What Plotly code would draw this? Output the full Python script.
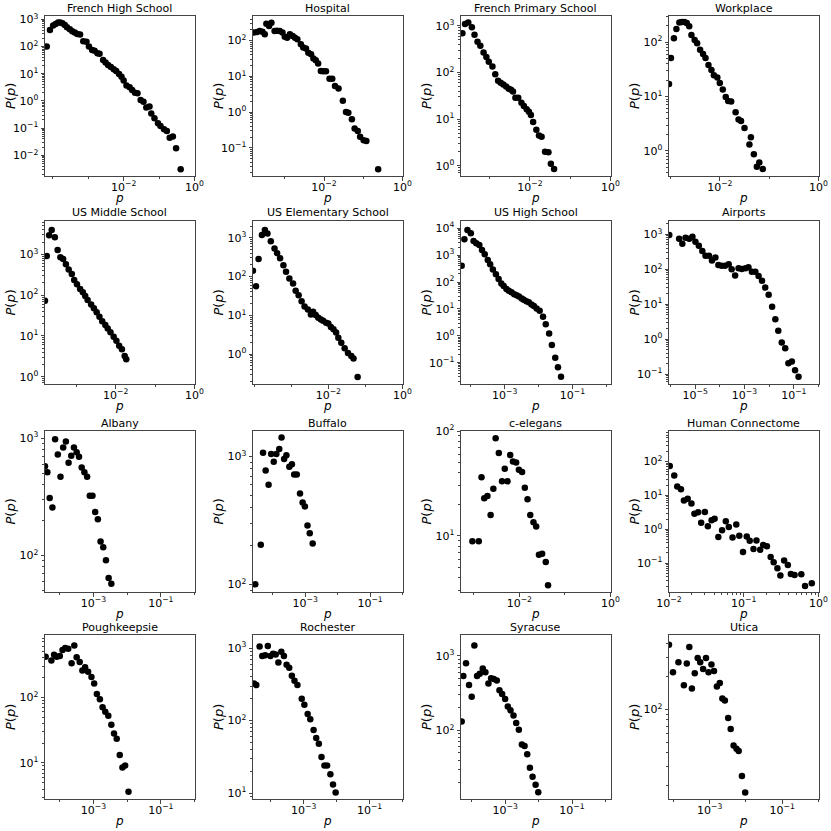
import numpy as np
import plotly.graph_objects as go

W = H = 831

titles = ["French High School", "Hospital", "French Primary School", "Workplace",
          "US Middle School", "US Elementary School", "US High School", "Airports",
          "Albany", "Buffalo", "c-elegans", "Human Connectome",
          "Poughkeepsie", "Rochester", "Syracuse", "Utica"]

# ---- data: log10(p) and log10(P(p)) ----
fhs_logp = [-4.17,-4.08,-3.99,-3.92,-3.85,-3.79,-3.73,-3.66,-3.60,-3.52,-3.45,-3.38,-3.31,-3.23,-3.14,-3.05,-2.98,-2.89,-2.82,-2.74,
            -2.68,-2.58,-2.51,-2.44,-2.36,-2.28,-2.21,-2.13,-2.06,-2.00,-1.92,-1.83,-1.76,-1.68,-1.61,-1.52,-1.44,-1.36,-1.27,-1.22,
            -1.13,-1.03,-0.96,-0.86,-0.78,-0.70,-0.61,-0.52,-0.39]
fhs_logP = [2.0,2.61,2.77,2.83,2.88,2.88,2.85,2.79,2.71,2.63,2.56,2.51,2.46,2.44,2.19,2.17,2.0,1.87,1.84,1.75,
            1.73,1.50,1.41,1.32,1.25,1.16,1.10,0.99,0.89,0.75,0.57,0.50,0.40,0.30,0.28,0.03,-0.03,-0.24,-0.21,-0.46,
            -0.64,-0.82,-0.92,-1.04,-1.11,-1.35,-1.31,-1.74,-2.51]

hosp_logp = [-3.79,-3.71,-3.64,-3.57,-3.51,-3.47,-3.40,-3.34,-3.26,-3.20,-3.13,-3.06,-3.00,-2.94,-2.87,-2.80,-2.74,-2.68,-2.59,-2.53,
             -2.46,-2.40,-2.33,-2.27,-2.21,-2.15,-2.08,-2.02,-1.95,-1.86,-1.79,-1.72,-1.63,-1.52,-1.44,-1.38,-1.29,-1.22,-1.14,-1.08,
             -0.99,-0.92,-0.62]
hosp_logP = [2.23,2.24,2.27,2.25,2.18,2.47,2.41,2.50,2.27,2.28,2.27,2.23,2.11,2.08,2.18,2.13,2.08,2.04,1.90,1.81,
             1.78,1.66,1.62,1.50,1.45,1.36,1.15,1.14,1.14,0.93,0.93,0.73,0.66,0.32,0.0,-0.02,-0.20,-0.46,-0.53,-0.69,
             -0.79,-0.81,-1.60]

fps_logp = [-3.675,-3.61,-3.53,-3.44,-3.375,-3.30,-3.23,-3.15,-3.08,-3.02,-2.93,-2.86,-2.79,-2.725,-2.66,-2.59,-2.525,-2.47,-2.42,-2.36,
            -2.29,-2.21,-2.15,-2.08,-2.025,-1.975,-1.92,-1.84,-1.775,-1.71,-1.625,-1.54,-1.48,-1.40]
fps_logP = [2.84,3.04,3.07,2.97,2.81,2.66,2.57,2.43,2.33,2.23,2.13,1.96,1.82,1.78,1.74,1.70,1.65,1.63,1.59,1.46,
            1.46,1.35,1.28,1.21,1.16,1.09,0.94,0.77,0.65,0.62,0.30,0.29,0.04,-0.07]

work_logp = [-3.03,-2.99,-2.93,-2.88,-2.82,-2.77,-2.72,-2.67,-2.62,-2.575,-2.51,-2.46,-2.40,-2.34,-2.29,-2.23,-2.17,-2.12,-2.05,-2.0,
             -1.94,-1.88,-1.83,-1.77,-1.68,-1.62,-1.57,-1.50,-1.40,-1.37,-1.31,-1.25,-1.20,-1.13]
work_logP = [1.23,1.71,2.07,2.24,2.36,2.37,2.37,2.35,2.29,2.13,2.04,1.98,1.86,1.78,1.71,1.58,1.49,1.39,1.35,1.25,
             1.13,0.99,0.92,0.91,0.71,0.58,0.55,0.42,0.12,0.25,-0.06,-0.29,-0.21,-0.33]

usms_logp = [-3.79,-3.745,-3.685,-3.62,-3.54,-3.47,-3.40,-3.33,-3.26,-3.19,-3.11,-3.05,-2.98,-2.90,-2.83,-2.77,-2.71,-2.62,-2.55,-2.48,
             -2.41,-2.34,-2.26,-2.20,-2.13,-2.05,-1.98,-1.91,-1.84,-1.77,-1.73]
usms_logP = [1.86,2.96,3.47,3.60,3.42,3.11,2.93,2.89,2.76,2.63,2.52,2.37,2.27,2.15,2.07,1.98,1.88,1.77,1.68,1.58,
             1.47,1.36,1.27,1.18,1.09,0.98,0.88,0.76,0.67,0.51,0.43]

uses_logp = [-4.03,-3.95,-3.88,-3.79,-3.71,-3.64,-3.55,-3.45,-3.38,-3.30,-3.21,-3.14,-3.05,-2.95,-2.88,-2.80,-2.72,-2.64,-2.55,-2.47,
             -2.41,-2.34,-2.27,-2.20,-2.14,-2.06,-2.0,-1.93,-1.86,-1.79,-1.73,-1.65,-1.56,-1.47,-1.38,-1.32,-1.21]
uses_logP = [2.15,1.75,2.45,3.07,3.20,3.11,2.91,2.72,2.60,2.47,2.29,2.12,1.95,1.82,1.63,1.52,1.36,1.23,1.15,1.02,
             1.09,1.01,0.94,0.89,0.86,0.81,0.79,0.70,0.64,0.56,0.42,0.29,0.15,0.03,-0.05,-0.11,-0.59]

ushs_logp = [-4.27,-4.19,-4.10,-4.0,-3.92,-3.84,-3.75,-3.67,-3.59,-3.50,-3.43,-3.35,-3.26,-3.18,-3.10,-3.03,-2.95,-2.88,-2.80,-2.72,
             -2.65,-2.58,-2.50,-2.44,-2.36,-2.29,-2.21,-2.14,-2.06,-1.97,-1.87,-1.79,-1.69,-1.61,-1.51,-1.43,-1.34]
ushs_logP = [2.61,3.59,3.94,3.81,3.53,3.44,3.38,3.19,3.03,2.82,2.66,2.47,2.29,2.11,1.95,1.85,1.74,1.68,1.62,1.55,
             1.51,1.46,1.39,1.34,1.29,1.25,1.17,1.11,1.02,0.93,0.71,0.43,0.09,-0.34,-0.81,-1.17,-1.52]

air_logp = [-6.05,-5.65,-5.52,-5.39,-5.24,-5.11,-4.99,-4.85,-4.71,-4.58,-4.44,-4.32,-4.18,-4.06,-3.93,-3.79,-3.64,-3.52,-3.38,-3.24,
            -3.11,-2.96,-2.84,-2.70,-2.56,-2.43,-2.29,-2.16,-2.02,-1.88,-1.75,-1.63,-1.49,-1.35,-1.22,-1.08,-0.95,-0.81]
air_logP = [2.98,2.87,2.73,2.90,2.87,2.93,2.79,2.67,2.52,2.39,2.39,2.25,2.34,2.12,2.10,2.10,2.14,2.0,1.82,2.03,
            2.01,2.03,2.06,1.93,1.93,1.81,1.67,1.48,1.27,0.93,0.57,0.24,-0.09,-0.26,-0.69,-0.64,-0.89,-1.07]

alb_logp = [-4.44,-4.37,-4.30,-4.22,-4.14,-4.06,-3.98,-3.90,-3.82,-3.74,-3.66,-3.58,-3.50,-3.43,-3.35,-3.27,-3.19,-3.11,-3.03,-2.95,
            -2.87,-2.79,-2.71,-2.63,-2.55,-2.47]
alb_logP = [2.76,2.71,2.49,2.41,2.99,2.86,2.67,2.92,2.97,2.79,2.85,2.92,2.88,2.84,2.75,2.71,2.67,2.51,2.51,2.37,
            2.31,2.12,2.07,1.96,1.81,1.76]

buf_logp = [-4.54,-4.37,-4.30,-4.22,-4.13,-4.05,-3.97,-3.89,-3.80,-3.73,-3.65,-3.58,-3.49,-3.41,-3.34,-3.26,-3.16,-3.08,-3.01,-2.93,
            -2.86,-2.77]
buf_logP = [2.0,2.31,3.03,2.89,2.78,3.02,2.96,3.02,3.06,3.15,2.98,3.01,2.92,2.94,2.86,2.86,2.71,2.64,2.61,2.46,
            2.40,2.32]

cel_logp = [-3.03,-2.89,-2.83,-2.77,-2.70,-2.63,-2.57,-2.52,-2.45,-2.38,-2.32,-2.26,-2.20,-2.14,-2.07,-2.01,-1.94,-1.88,-1.82,-1.76,
            -1.69,-1.63,-1.57,-1.50,-1.42,-1.37]
cel_logP = [0.95,0.95,1.56,1.36,1.38,1.20,1.45,1.93,1.79,1.52,1.64,1.52,1.77,1.71,1.70,1.63,1.61,1.46,1.35,1.20,
            1.13,1.09,0.82,0.83,0.75,0.53]

hc_logp = [-1.99,-1.93,-1.89,-1.84,-1.80,-1.75,-1.70,-1.66,-1.61,-1.57,-1.52,-1.48,-1.43,-1.39,-1.34,-1.29,-1.24,-1.20,-1.15,-1.10,
           -1.06,-1.01,-0.96,-0.92,-0.87,-0.83,-0.78,-0.74,-0.69,-0.64,-0.60,-0.55,-0.51,-0.46,-0.41,-0.37,-0.32,-0.23,-0.18,-0.09]
hc_logP = [1.87,1.59,1.26,1.18,0.85,0.90,0.76,0.46,0.50,0.19,0.51,0.09,0.27,0.31,-0.23,-0.03,0.24,0.07,-0.24,0.14,
           -0.19,-0.67,-0.21,-0.34,-0.58,-0.33,-0.60,-0.46,-0.50,-0.82,-0.97,-1.15,-1.36,-0.92,-1.05,-1.32,-1.35,-1.33,-1.67,-1.59]

pou_logp = [-4.42,-4.25,-4.17,-4.09,-4.0,-3.92,-3.84,-3.75,-3.65,-3.57,-3.50,-3.41,-3.33,-3.25,-3.16,-3.06,-2.98,-2.90,-2.81,-2.73,
            -2.65,-2.56,-2.47,-2.39,-2.31,-2.22,-2.14,-2.06,-1.96]
pou_logP = [2.62,2.56,2.65,2.62,2.63,2.72,2.75,2.74,2.52,2.79,2.61,2.54,2.41,2.46,2.39,2.31,2.21,2.05,1.97,1.85,
            1.78,1.72,1.58,1.45,1.37,1.12,0.93,0.96,0.56]

roc_logp = [-4.51,-4.44,-4.34,-4.26,-4.17,-4.09,-4.01,-3.93,-3.85,-3.77,-3.68,-3.60,-3.52,-3.44,-3.36,-3.28,-3.19,-3.06,-2.98,-2.88,
            -2.80,-2.70,-2.62,-2.54,-2.46,-2.37,-2.29,-2.19,-2.11,-2.03]
roc_logP = [2.51,2.49,3.02,2.89,2.90,3.03,2.89,2.92,2.91,2.80,2.95,2.89,2.77,2.73,2.62,2.55,2.49,2.30,2.22,2.09,
            2.02,1.87,1.76,1.68,1.50,1.38,1.38,1.26,1.12,1.01]

syr_logp = [-4.30,-4.25,-4.17,-4.08,-4.0,-3.92,-3.84,-3.76,-3.67,-3.59,-3.50,-3.42,-3.34,-3.25,-3.17,-3.09,-3.0,-2.92,-2.84,-2.75,
            -2.67,-2.59,-2.50,-2.42,-2.34,-2.26,-2.18,-2.09,-2.01]
syr_logP = [2.12,2.73,2.90,2.61,2.45,3.14,2.73,2.76,2.83,2.78,2.63,2.70,2.69,2.67,2.54,2.49,2.42,2.32,2.27,2.20,
            2.10,2.01,1.81,1.79,1.68,1.50,1.38,1.27,1.17]

uti_logp = [-4.12,-4.01,-3.86,-3.71,-3.63,-3.56,-3.49,-3.41,-3.33,-3.26,-3.18,-3.10,-3.03,-2.95,-2.88,-2.80,-2.72,-2.65,-2.58,-2.49,
            -2.42,-2.34,-2.26,-2.20,-2.11,-2.02]
uti_logP = [2.59,2.34,2.43,2.22,2.42,2.57,2.19,2.33,2.47,2.43,2.37,2.47,2.34,2.41,2.35,2.21,2.24,2.10,2.08,1.92,
            1.82,1.67,1.64,1.62,1.39,1.24]

series = [(fhs_logp, fhs_logP), (hosp_logp, hosp_logP), (fps_logp, fps_logP), (work_logp, work_logP),
          (usms_logp, usms_logP), (uses_logp, uses_logP), (ushs_logp, ushs_logP), (air_logp, air_logP),
          (alb_logp, alb_logP), (buf_logp, buf_logP), (cel_logp, cel_logP), (hc_logp, hc_logP),
          (pou_logp, pou_logP), (roc_logp, roc_logP), (syr_logp, syr_logP), (uti_logp, uti_logP)]

# axis limits (log10) and labelled decades
x_ranges = [(-4.22, 0), (-3.81, 0), (-3.71, 0), (-3.03, 0),
            (-3.79, 0), (-4.03, 0), (-4.29, 0.12), (-6.06, 0),
            (-4.44, 0), (-4.61, 0), (-3.28, 0), (-2.0, 0),
            (-4.44, 0), (-4.54, 0), (-4.32, 0.15), (-4.12, 0)]
y_ranges = [(-2.76, 3.12), (-1.79, 2.69), (-0.22, 3.21), (-0.46, 2.48),
            (-0.18, 3.82), (-0.77, 3.43), (-1.79, 4.27), (-1.28, 3.38),
            (1.69, 3.06), (1.94, 3.20), (0.465, 2.0), (-1.85, 2.9),
            (0.45, 2.95), (0.92, 3.18), (1.08, 3.28), (1.18, 2.68)]
x_decades = [[-2, 0], [-2, 0], [-2, 0], [-2, 0],
             [-2, 0], [-2, 0], [-3, -1], [-5, -3, -1],
             [-3, -1], [-3, -1], [-2, 0], [-2, -1, 0],
             [-3, -1], [-3, -1], [-3, -1], [-3, -1]]
y_decades = [[-2, -1, 0, 1, 2, 3], [-1, 0, 1, 2], [0, 1, 2, 3], [0, 1, 2],
             [0, 1, 2, 3], [0, 1, 2, 3], [-1, 0, 1, 2, 3, 4], [-1, 0, 1, 2, 3],
             [2, 3], [2, 3], [1, 2], [-1, 0, 1, 2],
             [1, 2], [1, 2, 3], [2, 3], [2]]

# layout in pixels
col_left = [45, 253, 461, 669]
box_w = 149.5
row_top = [16, 221, 431, 635]
row_bot = [176, 384, 592, 799]

FONT = "DejaVu Sans"
AX = "#444444"


def dec_label(d):
    s = str(d).replace("-", "\u2212")
    return "10<sup>" + s + "</sup>"


def minor_vals(rng, decs):
    lo, hi = rng
    vals = []
    stride1 = len(decs) < 2 or all(b - a == 1 for a, b in zip(decs, decs[1:]))
    for d in range(int(np.floor(lo)) - 1, int(np.ceil(hi)) + 1):
        if stride1:
            for k in range(2, 10):
                v = np.log10(k) + d
                if lo <= v <= hi:
                    vals.append(10 ** v)
        else:
            if lo <= d <= hi and d not in decs:
                vals.append(10.0 ** d)
    return vals


fig = go.Figure()
annotations = []
for i, (lp, lP) in enumerate(series):
    r, c = divmod(i, 4)
    n = i + 1
    xa = "x" if n == 1 else f"x{n}"
    ya = "y" if n == 1 else f"y{n}"
    fig.add_trace(go.Scatter(x=np.power(10.0, lp), y=np.power(10.0, lP), mode="markers",
                             marker=dict(color="black", size=6.5, line=dict(width=0)),
                             xaxis=xa, yaxis=ya, showlegend=False, cliponaxis=True,
                             hoverinfo="skip"))
    x0 = col_left[c] / W
    x1 = (col_left[c] + box_w) / W
    y0 = 1 - row_bot[r] / H
    y1 = 1 - row_top[r] / H
    common = dict(type="log", showgrid=False, zeroline=False, showline=True, mirror=True,
                  linecolor=AX, linewidth=1, ticks="outside", ticklen=3.5, tickwidth=1, tickcolor=AX,
                  automargin=False,
                  tickfont=dict(family=FONT, size=11, color="black"))
    xd, yd = x_decades[i], y_decades[i]
    fig.update_layout(**{
        ("xaxis" if n == 1 else f"xaxis{n}"): dict(
            common, domain=[x0, x1], anchor=ya, range=list(x_ranges[i]),
            tickmode="array", ticklabelstandoff=-3,
            tickvals=[10.0 ** d for d in xd], ticktext=[dec_label(d) for d in xd],
            minor=dict(tickmode="array", tickvals=minor_vals(x_ranges[i], xd), ticks="outside", ticklen=2,
                       tickwidth=0.8, tickcolor=AX)),
        ("yaxis" if n == 1 else f"yaxis{n}"): dict(
            common, domain=[y0, y1], anchor=xa, range=list(y_ranges[i]),
            tickmode="array",
            tickvals=[10.0 ** d for d in yd], ticktext=[dec_label(d) for d in yd],
            minor=dict(tickmode="array", tickvals=minor_vals(y_ranges[i], yd), ticks="outside", ticklen=2,
                       tickwidth=0.8, tickcolor=AX)),
    })
    xc = (x0 + x1) / 2
    annotations.append(dict(text=titles[i], x=xc, y=y1, xref="paper", yref="paper",
                            xanchor="center", yanchor="middle", yshift=8, showarrow=False,
                            font=dict(family=FONT, size=11, color="black")))
    annotations.append(dict(text="<i>p</i>", x=xc, y=y0, xref="paper", yref="paper",
                            xanchor="center", yanchor="middle", yshift=-22, showarrow=False,
                            font=dict(family=FONT, size=12, color="black")))
    annotations.append(dict(text="<i>P</i>(<i>p</i>)", x=x0, y=(y0 + y1) / 2, xref="paper", yref="paper",
                            xanchor="center", yanchor="middle", xshift=-35, textangle=-90,
                            showarrow=False, font=dict(family=FONT, size=13, color="black")))

fig.update_layout(width=W, height=H,
                  margin=dict(l=0, r=0, t=0, b=0, pad=0, autoexpand=False),
                  paper_bgcolor="white", plot_bgcolor="white", annotations=annotations,
                  font=dict(family=FONT), hovermode=False)
fig.write_html("out.html", config={"displayModeBar": False},
               post_script="document.body.style.margin='0px';document.body.style.overflow='hidden';")
